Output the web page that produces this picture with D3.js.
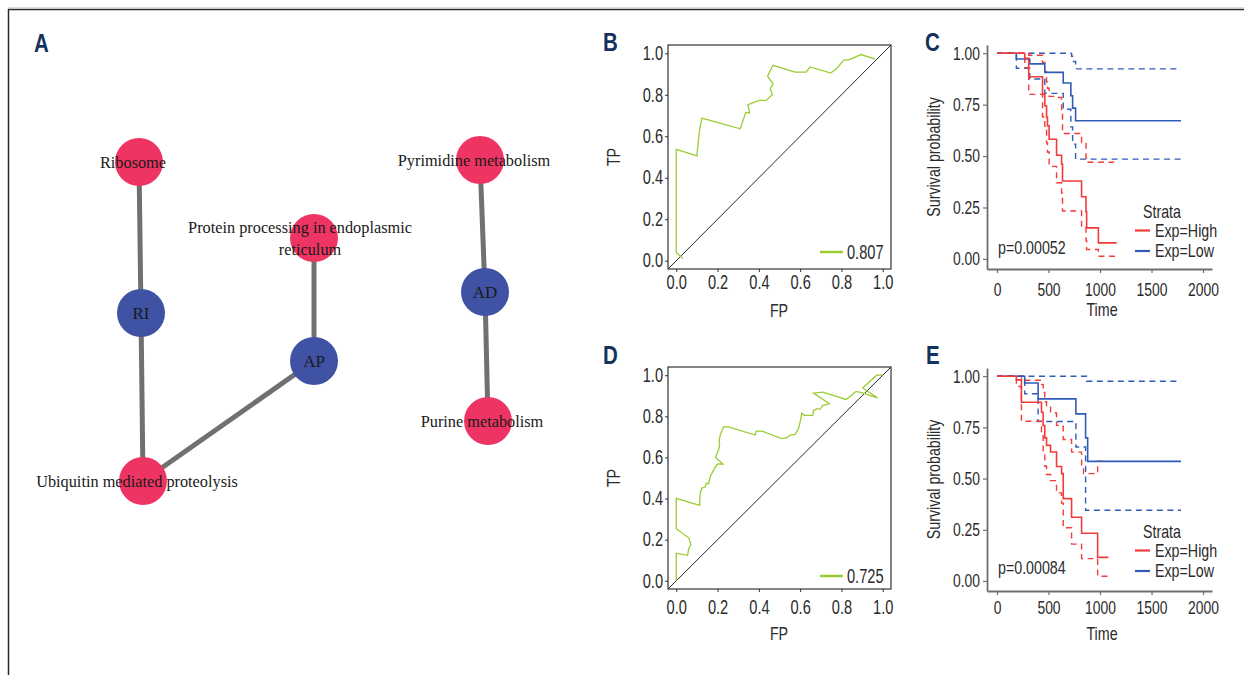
<!DOCTYPE html>
<html>
<head>
<meta charset="utf-8">
<script src="https://cdn.jsdelivr.net/npm/d3@7"></script>
<style>
  body { margin: 0; background: #fff; }
  svg { display: block; }
  .tick text, .lab { font-family: "Liberation Sans", Arial, sans-serif; fill: #2b2b2b; }
  .nar { transform-box: fill-box; transform: scaleX(0.75); }
  .nar.l { transform-origin: 0% 50%; }
  .nar.c { transform-origin: 50% 50%; }
  .nar.r { transform-origin: 100% 50%; }
  .net text { font-family: "Liberation Serif", "Times New Roman", serif; fill: #1a1a1a; }
  .panel { font-family: "Liberation Sans", Arial, sans-serif; font-weight: bold; fill: #14325c; font-size: 25px;
           transform-box: fill-box; transform-origin: 0% 50%; transform: scaleX(0.82); }
</style>
</head>
<body>
<svg id="fig" width="1244" height="675"></svg>
<script>
// ---- network (panel A), layout units from the reference
var net_nodes = [
  {id: "Ribosome", kind: "path", x: 119, y: 42},
  {id: "RI", kind: "gene", x: 121, y: 193},
  {id: "Ubiquitin mediated proteolysis", kind: "path", x: 123, y: 361},
  {id: "Protein processing in endoplasmic|reticulum", kind: "path", x: 294, y: 118},
  {id: "AP", kind: "gene", x: 294, y: 241},
  {id: "Pyrimidine metabolism", kind: "path", x: 460, y: 40},
  {id: "AD", kind: "gene", x: 465, y: 172},
  {id: "Purine metabolism", kind: "path", x: 468, y: 301}
];
var net_edges = [[0, 1], [1, 2], [3, 4], [4, 2], [5, 6], [6, 7]];

// ---- ROC curves (FP, TP)
var roc_B = [[0.032,0.011],[0,0.040],[0,0.537],[0.100,0.505],[0.105,0.558],[0.113,0.631],[0.124,0.688],
  [0.310,0.636],[0.331,0.699],[0.337,0.715],[0.355,0.712],[0.347,0.752],[0.403,0.773],[0.435,0.773],
  [0.466,0.801],[0.455,0.828],[0.468,0.853],[0.442,0.890],[0.468,0.942],[0.576,0.909],[0.629,0.909],
  [0.648,0.934],[0.748,0.905],[0.777,0.926],[0.810,0.966],[0.842,0.971],[0.894,0.994],[0.963,0.972]];
var roc_D = [[0,0],[0,0.134],[0.055,0.124],[0.060,0.156],[0.071,0.177],[0.060,0.209],[0,0.253],[0,0.401],
  [0.113,0.367],[0.116,0.427],[0.124,0.451],[0.140,0.456],[0.145,0.475],[0.156,0.471],[0.165,0.507],
  [0.185,0.547],[0.200,0.568],[0.226,0.568],[0.190,0.601],[0.205,0.636],[0.210,0.665],[0.208,0.684],
  [0.213,0.709],[0.229,0.749],[0.253,0.749],[0.382,0.709],[0.387,0.728],[0.415,0.728],[0.511,0.692],
  [0.535,0.696],[0.552,0.709],[0.576,0.712],[0.592,0.741],[0.600,0.773],[0.608,0.816],[0.619,0.805],
  [0.661,0.805],[0.665,0.829],[0.681,0.837],[0.697,0.834],[0.710,0.853],[0.742,0.861],[0.665,0.913],
  [0.710,0.918],[0.823,0.882],[0.871,0.921],[0.906,0.913],[0.974,0.890],[0.903,0.938],[0.971,1.0],[1.0,1.0]];
var auc_B = "0.807", auc_D = "0.725";
var roc_ticks = [0, 0.2, 0.4, 0.6, 0.8, 1.0];

// ---- Kaplan-Meier curves (time, survival), panel C
var high_C = [[0,1],[270,0.975],[308,0.886],[442,0.80],[464,0.745],[481,0.688],[490,0.647],[506,0.582],
  [578,0.504],[627,0.46],[636,0.379],[821,0.302],[864,0.229],[870,0.151],[984,0.078],[1162,0.078]];
var high_C_up = [[0,1],[308,0.99],[442,0.955],[464,0.91],[481,0.86],[490,0.83],[506,0.79],[578,0.785],
  [627,0.72],[636,0.61],[821,0.566],[864,0.49],[870,0.47],[1136,0.47]];
var high_C_lo = [[0,1],[270,0.93],[308,0.80],[442,0.69],[464,0.625],[481,0.565],[490,0.52],[506,0.45],
  [578,0.37],[627,0.32],[636,0.233],[821,0.16],[864,0.09],[870,0.046],[984,0.013],[1162,0.013]];
var low_C = [[0,1],[188,0.972],[318,0.948],[464,0.907],[643,0.855],[717,0.793],[734,0.733],[763,0.672],[1786,0.672]];
var low_C_up = [[0,1],[724,0.985],[734,0.96],[763,0.924],[1786,0.924]];
var low_C_lo = [[0,1],[188,0.927],[318,0.875],[464,0.805],[643,0.728],[717,0.642],[734,0.558],[763,0.485],[1786,0.485]];
var pval_C = "p=0.00052";

// ---- Kaplan-Meier curves, panel E
var high_E = [[0,1],[188,0.982],[237,0.873],[432,0.824],[448,0.759],[464,0.699],[481,0.662],[520,0.63],
  [578,0.559],[627,0.524],[643,0.402],[724,0.311],[821,0.233],[977,0.115],[1081,0.115]];
var high_E_up = [[0,1],[237,0.98],[432,0.96],[448,0.92],[464,0.875],[481,0.849],[520,0.82],[578,0.76],
  [627,0.754],[643,0.691],[724,0.629],[821,0.553],[840,0.524],[977,0.585],[1081,0.585]];
var high_E_lo = [[0,1],[188,0.95],[237,0.78],[432,0.72],[448,0.63],[464,0.56],[481,0.52],[520,0.49],
  [578,0.43],[627,0.38],[643,0.26],[724,0.18],[821,0.109],[977,0.023],[1081,0.023]];
var low_E = [[0,1],[269,0.967],[399,0.889],[766,0.816],[860,0.699],[880,0.584],[1786,0.584]];
var low_E_up = [[0,1],[870,0.975],[1786,0.975]];
var low_E_lo = [[0,1],[269,0.914],[399,0.779],[766,0.654],[860,0.345],[1786,0.345]];
var pval_E = "p=0.00084";

var km_xticks = [0, 500, 1000, 1500, 2000];
var km_yticks = [0, 0.25, 0.5, 0.75, 1.0];
var strata = ["Exp=High", "Exp=Low"];

var RED = "#f23b3b", BLUE = "#2f5cb8", GREEN = "#9acd32";

var svg = d3.select("#fig");

// outer frame
svg.append("line").attr("x1", 8).attr("x2", 1244).attr("y1", 7.5).attr("y2", 7.5).attr("stroke", "#dcdcdc");
svg.append("line").attr("x1", 8).attr("x2", 1244).attr("y1", 9.5).attr("y2", 9.5).attr("stroke", "#2a2a2a").attr("stroke-width", 1.5);
svg.append("line").attr("x1", 8.5).attr("x2", 8.5).attr("y1", 9).attr("y2", 675).attr("stroke", "#2a2a2a").attr("stroke-width", 1.5);

// panel letters
[["A", 34, 52], ["B", 603, 51], ["C", 925, 51], ["D", 603, 364], ["E", 926, 364]].forEach(function(p) {
  svg.append("text").attr("class", "panel").attr("x", p[1]).attr("y", p[2]).text(p[0]);
});

function lab(g, x, y, txt, size, anchor) {
  var cls = anchor == "middle" ? "c" : (anchor == "end" ? "r" : "l");
  return g.append("text").attr("class", "lab nar " + cls).attr("x", x).attr("y", y)
    .attr("text-anchor", anchor || "start").style("font-size", size + "px").text(txt);
}

// ---------- panel A: network
var nx = d3.scaleLinear().domain([0, 100]).range([20, 120]),
    ny = d3.scaleLinear().domain([0, 100]).range([120, 220]);
var g_net = svg.append("g").attr("class", "net");

g_net.selectAll("line").data(net_edges).enter().append("line")
  .attr("x1", d => nx(net_nodes[d[0]].x)).attr("y1", d => ny(net_nodes[d[0]].y))
  .attr("x2", d => nx(net_nodes[d[1]].x)).attr("y2", d => ny(net_nodes[d[1]].y))
  .attr("stroke", "#6f7071").attr("stroke-width", 5);

g_net.selectAll("circle").data(net_nodes).enter().append("circle")
  .attr("cx", d => nx(d.x)).attr("cy", d => ny(d.y)).attr("r", 24)
  .attr("fill", d => d.kind == "path" ? "#ee3462" : "#3f52a3");

net_nodes.forEach(function(d) {
  var lines = d.id.split("|");
  var t = g_net.append("text")
    .attr("text-anchor", "middle")
    .style("font-size", d.kind == "path" ? "16.3px" : "17px");
  if (d.kind == "gene") {
    t.attr("x", nx(d.x)).attr("y", ny(d.y) + 6).text(d.id);
  } else if (lines.length == 1) {
    t.attr("x", nx(d.x) - 6).attr("y", ny(d.y) + 5.5).text(d.id);
  } else {
    t.append("tspan").attr("x", nx(d.x) - 14).attr("y", ny(d.y) - 5).text(lines[0]);
    t.append("tspan").attr("x", nx(d.x) - 4).attr("y", ny(d.y) + 17).text(lines[1]);
  }
});

// ---------- ROC panels
function drawRoc(data, auc, top, bottom, tickBase, fpBase, legY) {
  var x = d3.scaleLinear().domain([-0.04, 1.04]).range([668, 891]);
  var y = d3.scaleLinear().domain([-0.04, 1.04]).range([bottom, top]);
  var g = svg.append("g");

  var xa = g.append("g").attr("transform", "translate(0," + bottom + ")")
    .call(d3.axisBottom(x).tickValues(roc_ticks).tickFormat(d3.format(".1f")).tickSize(3).tickPadding(tickBase - bottom - 17));
  var ya = g.append("g").attr("transform", "translate(668,0)")
    .call(d3.axisLeft(y).tickValues(roc_ticks).tickFormat(d3.format(".1f")).tickSize(3).tickPadding(2));
  xa.selectAll(".tick text").attr("class", "nar c");
  ya.selectAll(".tick text").attr("class", "nar r");
  [xa, ya].forEach(function(a) {
    a.select(".domain").remove();
    a.selectAll(".tick line").attr("stroke", "#333");
    a.selectAll(".tick text").style("font-size", "19.5px");
  });

  g.append("line").attr("x1", x(-0.04)).attr("y1", y(-0.04)).attr("x2", x(1.04)).attr("y2", y(1.04))
    .attr("stroke", "#111").attr("stroke-width", 0.9);

  g.append("path").datum(data)
    .attr("d", d3.line().x(d => x(d[0])).y(d => y(d[1])))
    .attr("fill", "none").attr("stroke", GREEN).attr("stroke-width", 1.3);

  g.append("rect").attr("x", 668).attr("y", top).attr("width", 891 - 668).attr("height", bottom - top)
    .attr("fill", "none").attr("stroke", "#333").attr("stroke-width", 1.2);

  g.append("line").attr("x1", 820).attr("x2", 843).attr("y1", legY).attr("y2", legY)
    .attr("stroke", GREEN).attr("stroke-width", 2.5);
  lab(g, 847, legY + 7, auc, 19.5);

  lab(g, 779, fpBase, "FP", 19, "middle");
  var tg = g.append("g").attr("transform", "translate(620," + ((top + bottom) / 2) + ") rotate(-90)");
  lab(tg, 0, 0, "TP", 19, "middle");
}

drawRoc(roc_B, auc_B, 45, 269, 289, 317, 252);
drawRoc(roc_D, auc_D, 367, 589, 614, 640, 576);

// ---------- KM panels
function drawKm(curves, pval, top, bottom, tickBase, timeBase, legTop) {
  var x = d3.scaleLinear().domain([-97, 2087]).range([987, 1212]);
  var y = d3.scaleLinear().domain([-0.049, 1.04]).range([bottom, top]);
  var g = svg.append("g");

  var xa = g.append("g").attr("transform", "translate(0," + bottom + ")")
    .call(d3.axisBottom(x).tickValues(km_xticks).tickFormat(d3.format("d")).tickSize(4).tickSizeOuter(0).tickPadding(tickBase - bottom - 17));
  var ya = g.append("g").attr("transform", "translate(987,0)")
    .call(d3.axisLeft(y).tickValues(km_yticks).tickFormat(d3.format(".2f")).tickSize(4).tickSizeOuter(0).tickPadding(3));
  xa.selectAll(".tick text").attr("class", "nar c");
  ya.selectAll(".tick text").attr("class", "nar r");
  [xa, ya].forEach(function(a) {
    a.select(".domain").attr("stroke", "#6e6e6e").attr("stroke-width", 1.8);
    a.selectAll(".tick line").attr("stroke", "#6e6e6e").attr("stroke-width", 1.2);
    a.selectAll(".tick text").style("font-size", "18.5px");
  });

  var line = d3.line().curve(d3.curveStepAfter).x(d => x(d[0])).y(d => y(d[1]));
  curves.forEach(function(c) {
    g.append("path").datum(c.data).attr("d", line)
      .attr("fill", "none").attr("stroke", c.color)
      .attr("stroke-width", c.dash ? 1.4 : 1.6)
      .attr("stroke-dasharray", c.dash ? "6,4.5" : null);
  });

  lab(g, 998, legTop + 36, pval, 19);

  lab(g, 1143, legTop, "Strata", 19);
  strata.forEach(function(s, i) {
    var ly = legTop + 12.5 + i * 20.5;
    g.append("line").attr("x1", 1135).attr("x2", 1150).attr("y1", ly).attr("y2", ly)
      .attr("stroke", i == 0 ? RED : BLUE).attr("stroke-width", 2.2);
    lab(g, 1155, ly + 6.5, s, 19);
  });

  lab(g, 1102, timeBase, "Time", 19, "middle");
  var tg = g.append("g").attr("transform", "translate(940," + ((top + bottom) / 2) + ") rotate(-90)");
  lab(tg, 0, 0, "Survival probability", 19, "middle");
}

drawKm([
  {data: low_C_up, color: BLUE, dash: true}, {data: low_C_lo, color: BLUE, dash: true},
  {data: high_C_up, color: RED, dash: true}, {data: high_C_lo, color: RED, dash: true},
  {data: low_C, color: BLUE}, {data: high_C, color: RED}
], pval_C, 45, 269, 296, 316, 218);

drawKm([
  {data: low_E_up, color: BLUE, dash: true}, {data: low_E_lo, color: BLUE, dash: true},
  {data: high_E_up, color: RED, dash: true}, {data: high_E_lo, color: RED, dash: true},
  {data: low_E, color: BLUE}, {data: high_E, color: RED}
], pval_E, 368, 591, 614, 640, 538);
</script>
</body>
</html>
